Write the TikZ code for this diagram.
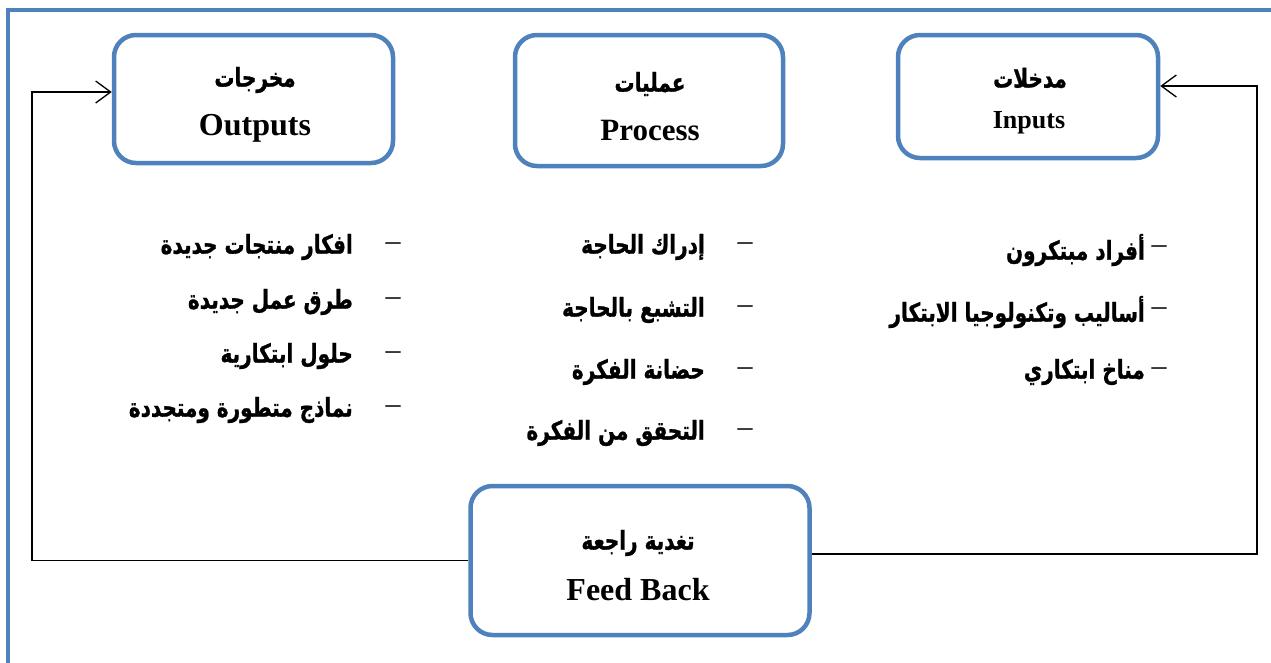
\documentclass[tikz,border=0pt]{standalone}
\usepackage{fontspec}
\setmainfont{Liberation Serif}
\newfontfamily\arabicfont[Script=Arabic, BoldFeatures={FakeBold=1.2}]{DejaVu Sans}
\TeXXeTstate=1
\usetikzlibrary{arrows.meta}
\definecolor{frameblue}{HTML}{4F81BD}
\newcommand{\artxt}[1]{\scalebox{1}[1.3]{\beginR #1\endR}}
\tikzset{
  box/.style={draw=frameblue, line width=4.5pt, rounded corners=22pt, fill=white, inner sep=0pt},
  conn/.style={draw=black, line width=1.3pt},
  tip/.style={-{Straight Barb[length=15pt,width=22pt,line width=1.3pt]}},
  ar/.style={font=\arabicfont\bfseries\fontsize{20}{24}\selectfont, anchor=east, inner sep=0pt},
  arhead/.style={font=\arabicfont\bfseries\fontsize{20}{24}\selectfont, inner sep=0pt},
  enhead/.style={font=\bfseries\fontsize{31}{34}\selectfont, inner sep=0pt},
  dashmark/.style={font=\fontsize{30}{30}\selectfont, inner sep=0pt}
}
\begin{document}
\begin{tikzpicture}[x=1pt,y=-1pt]
\useasboundingbox (0,0) rectangle (1271,662);
\begin{scope}
\clip (0,0) rectangle (1271,662);
\draw[frameblue, line width=4.5pt] (8,700) -- (8,10) -- (1300,10);
\end{scope}

% boxes
\node[box, minimum width=279pt, minimum height=128pt] (out) at (253.5,99) {};
\node[box, minimum width=268pt, minimum height=131pt] (proc) at (649,100.5) {};
\node[box, minimum width=260pt, minimum height=123pt] (in) at (1028,96.5) {};
\node[box, minimum width=339pt, minimum height=149pt] (fb) at (640,560.5) {};

% headings
\node[arhead] (outA) at (255,80) {\artxt{مخرجات}};
\node[enhead, font=\bfseries\fontsize{32}{34}\selectfont] (outE) at (255,128) {Outputs};
\node[arhead] (procA) at (650,84) {\artxt{عمليات}};
\node[enhead] (procE) at (650,130) {Process};
\node[arhead] (inA) at (1030,78) {\artxt{مدخلات}};
\node[enhead, font=\bfseries\fontsize{26}{30}\selectfont] (inE) at (1029,123) {Inputs};
\node[arhead] (fbA) at (638,543) {\artxt{تغدية راجعة}};
\node[enhead, font=\bfseries\fontsize{32}{34}\selectfont] (fbE) at (638,590) {Feed Back};

% connectors
\coordinate (lc) at (32,92);
\coordinate (rb) at (1257,554);
\coordinate (rt) at (1257,86);
\draw[conn, tip] (fb.west) -| (lc) -- (out.west |- lc);
\draw[conn, tip] (fb.east |- rb) -- (rb) -- (rt) -- (in.east |- rt);

% outputs list
\node[dashmark] (d1) at (393,247) {–};
\node[ar] (o1) at (353,247) {\artxt{افكار منتجات جديدة}};
\node[dashmark] (d2) at (393,302) {–};
\node[ar] (o2) at (353,302) {\artxt{طرق عمل جديدة}};
\node[dashmark] (d3) at (393,356) {–};
\node[ar] (o3) at (353,356) {\artxt{حلول ابتكارية}};
\node[dashmark] (d4) at (393,410) {–};
\node[ar] (o4) at (353,410) {\artxt{نماذج متطورة ومتجددة}};

% process list
\node[dashmark] (d5) at (745,247) {–};
\node[ar] (p1) at (705,247) {\artxt{إدراك الحاجة}};
\node[dashmark] (d6) at (745,310) {–};
\node[ar] (p2) at (705,310) {\artxt{التشبع بالحاجة}};
\node[dashmark] (d7) at (745,372) {–};
\node[ar] (p3) at (705,372) {\artxt{حضانة الفكرة}};
\node[dashmark] (d8) at (745,433) {–};
\node[ar] (p4) at (705,433) {\artxt{التحقق من الفكرة}};

% inputs list
\node[dashmark] (d9) at (1159,250) {–};
\node[ar] (i1) at (1145,250) {\artxt{أفراد مبتكرون}};
\node[dashmark] (d10) at (1159,312) {–};
\node[ar] (i2) at (1145,312) {\artxt{أساليب وتكنولوجيا الابتكار}};
\node[dashmark] (d11) at (1159,372) {–};
\node[ar] (i3) at (1145,372) {\artxt{مناخ ابتكاري}};
\end{tikzpicture}
\end{document}
